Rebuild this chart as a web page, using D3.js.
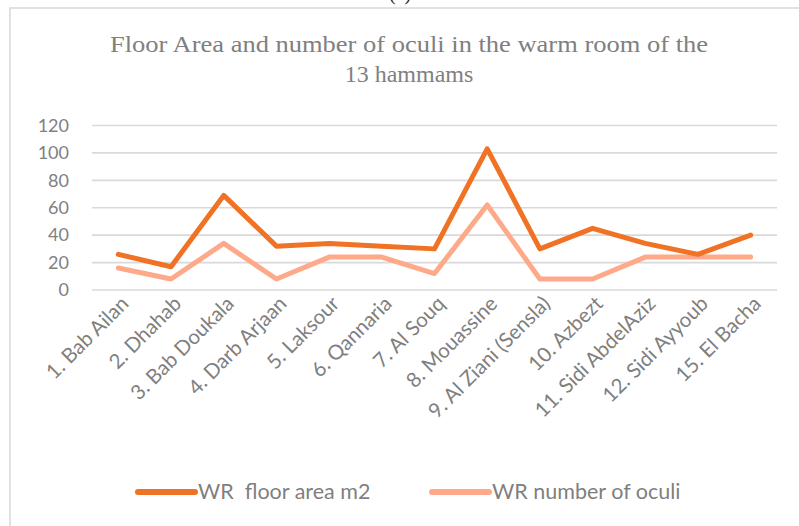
<!DOCTYPE html>
<html lang="en">
<head>
<meta charset="utf-8">
<script src="https://cdn.jsdelivr.net/npm/d3@7"></script>
<style>
  body { margin: 0; background: #fff; }
</style>
</head>
<body>
<div id="chart"></div>
<script>
// data
var hammams = ["1. Bab Ailan", "2. Dhahab", "3. Bab Doukala", "4. Darb Arjaan", "5. Laksour",
  "6. Qannaria", "7. Al Souq", "8. Mouassine", "9. Al Ziani (Sensla)", "10. Azbezt",
  "11. Sidi AbdelAziz", "12. Sidi Ayyoub", "15. El Bacha"];
var floorArea = [26, 17, 69, 32, 34, 32, 30, 103, 30, 45, 34, 26, 40];
var oculi = [16, 8, 34, 8, 24, 24, 12, 62, 8, 8, 24, 24, 24];
var yTicks = [0, 20, 40, 60, 80, 100, 120];
var seriesNames = ["WR  floor area m2", "WR number of oculi"];
var seriesColors = ["#f07224", "#ffa98b"];

var W = 799, H = 526;
var svg = d3.select("#chart").append("svg")
  .attr("width", W).attr("height", H)
  .style("display", "block");

// chart frame (cut off on the right and bottom)
svg.append("rect")
  .attr("x", 10).attr("y", 8)
  .attr("width", 840).attr("height", 560)
  .attr("fill", "none")
  .attr("stroke", "#d9d9d9")
  .attr("stroke-width", 1.5);

// caption peeking in at the top
svg.append("text")
  .attr("x", 400).attr("y", 0)
  .attr("text-anchor", "middle")
  .style("font-family", "Liberation Serif")
  .style("font-size", "20px")
  .attr("fill", "#222")
  .text("(a)");

// title
var title = svg.append("text")
  .attr("text-anchor", "middle")
  .style("font-family", "'Liberation Serif', serif")
  .style("font-size", "24px")
  .attr("fill", "#808080");
title.append("tspan").attr("x", 409).attr("y", 52)
  .attr("textLength", 598).attr("lengthAdjust", "spacingAndGlyphs")
  .text("Floor Area and number of oculi in the warm room of the");
title.append("tspan").attr("x", 409).attr("y", 82)
  .text("13 hammams");

var x = d3.scalePoint()
  .domain(hammams)
  .range([92, 777])
  .padding(0.5);

var y = d3.scaleLinear()
  .domain([0, 120])
  .range([290, 125.5]);

// gridlines
svg.append("g")
  .selectAll("line")
  .data(yTicks)
  .enter().append("line")
  .attr("x1", 92).attr("x2", 777)
  .attr("y1", function(d) { return y(d); })
  .attr("y2", function(d) { return y(d); })
  .attr("stroke", "#d9d9d9")
  .attr("stroke-width", 1.6);

// y axis labels
var yAxis = d3.axisLeft(y).tickValues(yTicks).tickSize(0).tickPadding(0);
var yGuide = svg.append("g").attr("transform", "translate(69,0)").call(yAxis);
yGuide.select(".domain").remove();
yGuide.selectAll("text")
  .style("font-family", "Lato, 'Open Sans', sans-serif")
  .style("font-size", "18px")
  .attr("fill", "#7f7f7f");

// x axis labels, rotated
var xAxis = d3.axisBottom(x).tickSize(0).tickPadding(0);
var xGuide = svg.append("g").attr("transform", "translate(0,290)").call(xAxis);
xGuide.select(".domain").remove();
xGuide.selectAll("text")
  .style("font-family", "Lato, 'Open Sans', sans-serif")
  .style("font-size", "20.5px")
  .attr("fill", "#7f7f7f")
  .attr("text-anchor", "end")
  .attr("dy", null)
  .attr("y", 0)
  .attr("transform", "translate(11,15) rotate(-45)");

// lines
var line = d3.line()
  .x(function(d, i) { return x(hammams[i]); })
  .y(function(d) { return y(d); });

[oculi, floorArea].forEach(function(vals, k) {
  var c = k === 0 ? seriesColors[1] : seriesColors[0];
  svg.append("path")
    .datum(vals)
    .attr("d", line)
    .attr("fill", "none")
    .attr("stroke", c)
    .attr("stroke-width", 5)
    .attr("stroke-linejoin", "round")
    .attr("stroke-linecap", "round");
});

// legend
var legendX = [138, 432];
var leg = svg.append("g");
seriesNames.forEach(function(name, i) {
  leg.append("line")
    .attr("x1", legendX[i]).attr("x2", legendX[i] + 57)
    .attr("y1", 492).attr("y2", 492)
    .attr("stroke", seriesColors[i])
    .attr("stroke-width", 6)
    .attr("stroke-linecap", "round");
  leg.append("text")
    .attr("x", legendX[i] + 60).attr("y", 499)
    .style("font-family", "Lato, 'Open Sans', sans-serif")
    .style("font-size", "21.5px")
    .style("white-space", "pre")
    .attr("fill", "#7f7f7f")
    .text(name);
});
</script>
</body>
</html>
